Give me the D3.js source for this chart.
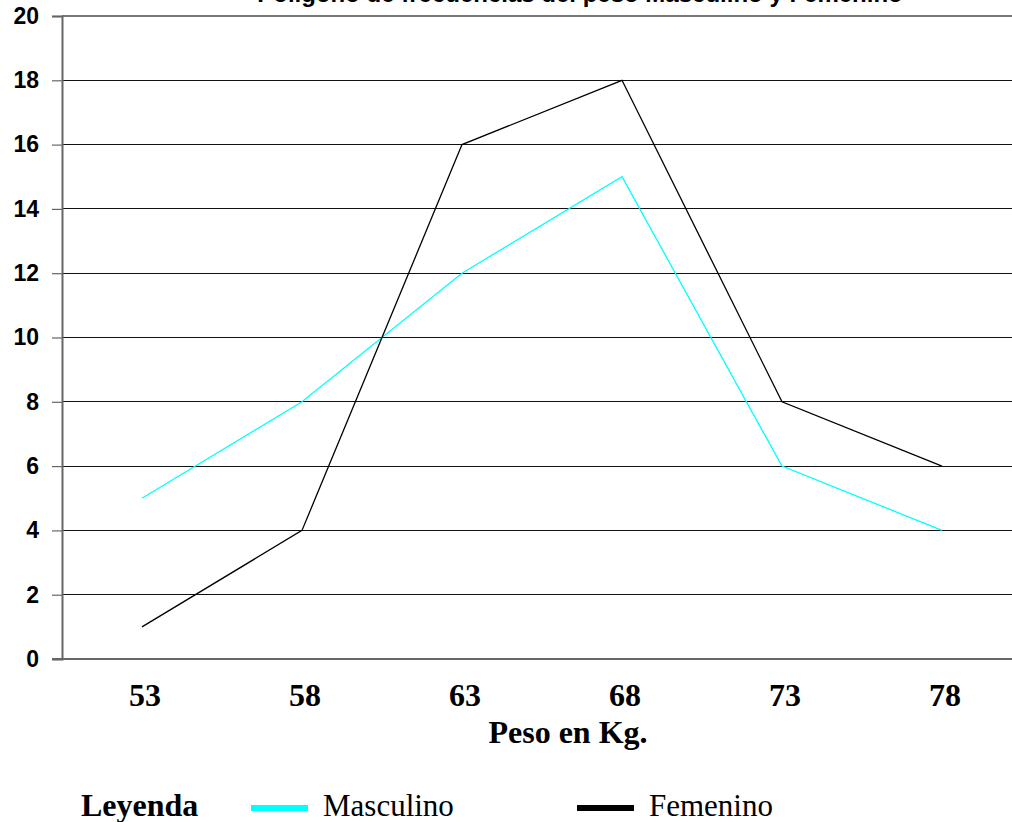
<!DOCTYPE html>
<html><head><meta charset="utf-8">
<script src="https://cdn.jsdelivr.net/npm/d3@7"></script>
<style>body{margin:0;background:#fff;overflow:hidden}</style>
</head><body>
<svg id="c" width="1012" height="822"></svg>
<script>
const categories = ["53","58","63","68","73","78"];
const masculino = [5, 8, 12, 15, 6, 4];
const femenino = [1, 4, 16, 18, 8, 6];
const yTicks = [0,2,4,6,8,10,12,14,16,18,20];
const title = "Polígono de frecuencias del peso Masculino y Femenino";

(function(){
const svg = d3.select("#c");
const mLeft = 62, mRight = 1022, mTop = 16, mBottom = 659;
const x = d3.scaleBand().domain(categories).range([mLeft, mRight]);
const y = d3.scaleLinear().domain([0, 20]).range([mBottom, mTop]);
const serif = "Liberation Serif, Times New Roman, serif";
const sans = "Liberation Sans, Arial, sans-serif";

// title (cut off at top, as in the original)
svg.append("text").attr("x", 580).attr("y", 1.5).attr("text-anchor","middle")
  .attr("font-family", sans).attr("font-weight","bold")
  .attr("font-size", 24).text(title);

// gridlines
svg.append("g").selectAll("line").data(yTicks.filter(d=>d>0)).join("line")
  .attr("x1", mLeft).attr("x2", mRight).attr("y1", d=>y(d)).attr("y2", d=>y(d))
  .attr("stroke", d => d===20 ? "#777" : "#111").attr("stroke-width", d=> d===20?1.5:1)
  .attr("shape-rendering","crispEdges");

// y axis
const yAxis = d3.axisLeft(y).tickValues(yTicks).tickSize(10).tickPadding(10);
const gy = svg.append("g").attr("transform", `translate(${mLeft},0)`).call(yAxis);
gy.select(".domain").attr("stroke","#666").attr("stroke-width",2);
gy.selectAll(".tick line").attr("stroke","#666").attr("stroke-width",1.2);
gy.selectAll(".tick text").attr("font-family", sans)
  .attr("font-weight","bold").attr("font-size",23).attr("fill","#000").attr("x",-23);

// x axis line
svg.append("line").attr("x1", mLeft-10).attr("x2", mRight).attr("y1", y(0)).attr("y2", y(0))
  .attr("stroke","#666").attr("stroke-width",2);

// x labels
const xAxis = d3.axisBottom(x).tickSize(0).tickPadding(24);
const gx = svg.append("g").attr("transform", `translate(3,${mBottom})`).call(xAxis);
gx.select(".domain").remove();
gx.selectAll(".tick text").attr("font-family", serif)
  .attr("font-weight","bold").attr("font-size",32).attr("fill","#000");

svg.append("text").attr("x", 568).attr("y", 743).attr("text-anchor","middle")
  .attr("font-family", serif).attr("font-weight","bold")
  .attr("font-size",32).text("Peso en Kg.");

// lines
const line = d3.line().x((d,i)=>x(categories[i]) + x.bandwidth()/2).y(d=>y(d));
svg.append("path").datum(masculino).attr("d", line).attr("fill","none")
  .attr("stroke","#00ffff").attr("stroke-width",1.3);
svg.append("path").datum(femenino).attr("d", line).attr("fill","none")
  .attr("stroke","#000").attr("stroke-width",1.3);

// legend
svg.append("text").attr("x",81).attr("y",816).attr("font-family",serif).attr("font-weight","bold")
  .attr("font-size",32).text("Leyenda");
const legend = [{name:"Masculino", color:"#00ffff", x:251},{name:"Femenino", color:"#000", x:577}];
legend.forEach(l=>{
  svg.append("line").attr("x1",l.x).attr("x2",l.x+57).attr("y1",808).attr("y2",808)
    .attr("stroke",l.color).attr("stroke-width",6);
  svg.append("text").attr("x",l.x+72).attr("y",816).attr("font-family",serif)
    .attr("font-size",31).text(l.name);
});
})();
</script>
</body></html>
